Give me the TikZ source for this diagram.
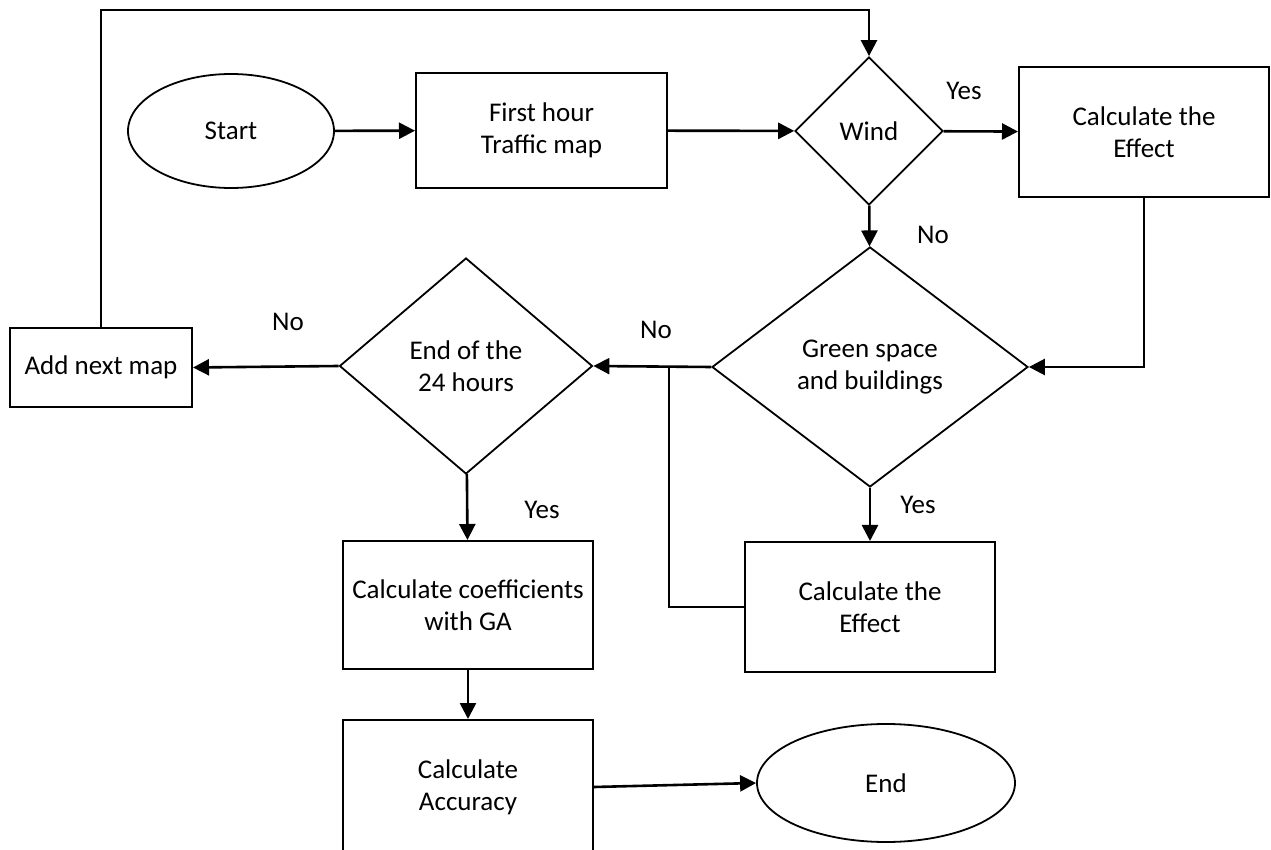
\documentclass[tikz,border=0pt]{standalone}
\usepackage{fontspec}
\setmainfont{Carlito}
\usetikzlibrary{shapes.geometric,arrows.meta}

\begin{document}
\begin{tikzpicture}[x=0.5pt,y=-0.5pt,
  font=\fontsize{13.5}{16}\selectfont,
  box/.style={draw,line width=1pt,align=center,inner sep=0pt},
  terminal/.style={draw,ellipse,line width=0.9pt,inner sep=0pt},
  decision/.style={draw,diamond,line width=0.9pt,align=center,inner sep=0pt},
  line/.style={line width=1.3pt},
  arr/.style={line width=1.3pt,-{Triangle[length=8pt,width=8pt]}}]
\useasboundingbox (0,0) rectangle (1271,850);
% shapes
\node[terminal,minimum width=103pt,minimum height=57pt] (start) at (231,131) {Start};
\node[box,minimum width=125.5pt,minimum height=57.5pt] (firsthour) at (541.5,130.5) {First hour\\Traffic map};
\node[decision,minimum width=74pt,minimum height=74pt] (wind) at (869,131) {Wind};
\node[box,minimum width=125pt,minimum height=65pt] (effectA) at (1144,132) {Calculate the\\Effect};
\node[decision,minimum width=158pt,minimum height=120pt] (green) at (870,367) {Green space\\and buildings};
\node[box,minimum width=125pt,minimum height=65pt] (effectB) at (870,607) {Calculate the\\Effect};
\node[decision,minimum width=126.5pt,minimum height=108pt] (endday) at (466,366) {End of the\\24 hours};
\node[box,minimum width=91pt,minimum height=39.5pt] (nextmap) at (101,367.5) {Add next map};
\node[box,minimum width=125pt,minimum height=64pt] (coeff) at (468,605) {Calculate coefficients\\with GA};
\node[box,minimum width=125pt,minimum height=67pt] (accuracy) at (468,787) {Calculate\\Accuracy};
\node[terminal,minimum width=129pt,minimum height=59pt] (stop) at (886,783) {End};
% labels
\node (yesA) at (964,91) {Yes};
\node (noA) at (933,235) {No};
\node (noB) at (656,330) {No};
\node (noC) at (288,322) {No};
\node (yesB) at (918,505) {Yes};
\node (yesC) at (542,510) {Yes};
% connectors
\coordinate (loop) at (101,10);
\coordinate (join) at (669,367);
\draw[arr] (start) -- (firsthour);
\draw[arr] (firsthour) -- (wind);
\draw[arr] (wind) -- (effectA);
\draw[arr] (wind) -- (green);
\draw[arr] (effectA.south) |- (green.east);
\draw[arr] (green.west) -- (endday.east);
\draw[arr] (green) -- (effectB);
\draw[line] (effectB.west) -| (join);
\draw[arr] (endday.west) -- (nextmap.east);
\draw[arr] (nextmap.north) -- (loop) -| (wind.north);
\draw[arr] (endday) -- (coeff);
\draw[arr] (coeff) -- (accuracy);
\draw[arr] (accuracy.east) -- (stop.west);
\end{tikzpicture}
\end{document}
